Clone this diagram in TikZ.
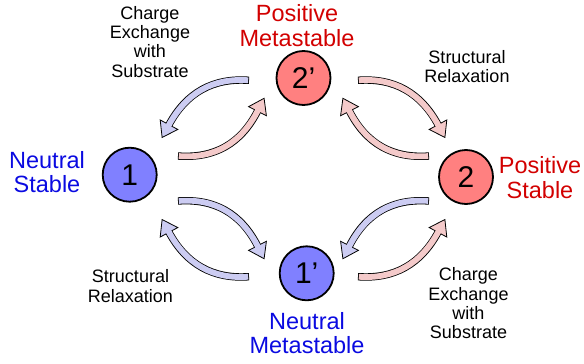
\documentclass[tikz,border=0pt]{standalone}
\usepackage{fontspec}
\setmainfont{Liberation Sans}
\usetikzlibrary{calc}
\definecolor{arrowblue}{RGB}{204,204,242}
\definecolor{arrowpink}{RGB}{244,202,202}
\definecolor{stateblue}{RGB}{128,128,255}
\definecolor{statered}{RGB}{255,128,128}
\definecolor{textblue}{RGB}{10,10,225}
\definecolor{textred}{RGB}{210,0,0}
\newcommand{\cyclearrow}[4]{%
  \draw[line width=7.4pt, black] (#2) .. controls ($(#2)!2/3!(#3)$) and ($(#4)!2/3!(#3)$) .. (#4);
  \filldraw[fill=#1, draw=black, line width=0.8pt, line join=miter]
    ($(#4)!10pt!90:(#3)$) -- ($(#4)!-14.5pt!(#3)$) -- ($(#4)!10pt!-90:(#3)$) -- cycle;
  \draw[line width=5.8pt, #1, shorten <=0.8pt, shorten >=-1.2pt] (#2) .. controls ($(#2)!2/3!(#3)$) and ($(#4)!2/3!(#3)$) .. (#4);
}
\tikzset{
  state/.style={circle, draw=black, line width=1.8pt, minimum size=54pt, inner sep=0pt,
    font=\fontsize{30}{30}\selectfont},
  lab/.style={align=center, inner sep=0pt, anchor=north, font=\fontsize{18}{19.3}\selectfont},
  statelab/.style={align=center, inner sep=0pt, anchor=north, font=\fontsize{23.5}{24.5}\selectfont},
}
\begin{document}
\begin{tikzpicture}[x=1pt,y=-1pt]
\useasboundingbox (0,0) rectangle (584,364);
% pair 1 (1 <-> 2')
\coordinate (a1t) at (249,80.3);  \coordinate (a1c) at (195,76.5);  \coordinate (a1b) at (169,124.7);
\coordinate (a2t) at (178,156);   \coordinate (a2c) at (232.6,160); \coordinate (a2b) at (257.5,111.2);
% pair 2 (2' <-> 2)
\coordinate (b1t) at (358,80.3);  \coordinate (b1c) at (412,76.5);  \coordinate (b1b) at (438,124.7);
\coordinate (b2t) at (429,156);   \coordinate (b2c) at (374.4,160); \coordinate (b2b) at (349.5,111.2);
% pair 3 (1 <-> 1')
\coordinate (c1t) at (249,276.7); \coordinate (c1c) at (195,280.5); \coordinate (c1b) at (169,232.3);
\coordinate (c2t) at (178,201);   \coordinate (c2c) at (232.6,197); \coordinate (c2b) at (257.5,245.8);
% pair 4 (1' <-> 2)
\coordinate (d1t) at (358,276.7); \coordinate (d1c) at (412,280.5); \coordinate (d1b) at (438,232.3);
\coordinate (d2t) at (429,201);   \coordinate (d2c) at (374.4,197); \coordinate (d2b) at (349.5,245.8);

\cyclearrow{arrowblue}{a1t}{a1c}{a1b}
\cyclearrow{arrowpink}{a2t}{a2c}{a2b}
\cyclearrow{arrowpink}{b1t}{b1c}{b1b}
\cyclearrow{arrowpink}{b2t}{b2c}{b2b}
\cyclearrow{arrowblue}{c1t}{c1c}{c1b}
\cyclearrow{arrowblue}{c2t}{c2c}{c2b}
\cyclearrow{arrowpink}{d1t}{d1c}{d1b}
\cyclearrow{arrowblue}{d2t}{d2c}{d2b}

\node[state, fill=stateblue] (n1)  at (129.7,174.7) {1};
\node[state, fill=statered]  (n2p) at (303.5,78)    {2’};
\node[state, fill=statered]  (n2)  at (466,177)     {2};
\node[state, fill=stateblue] (n1p) at (306.7,273.3) {1’};

\node[statelab, text=textblue] (l1)  at (47,151)    {Neutral\\Stable};
\node[statelab, text=textred]  (l2p) at (297,4.5)   {Positive\\Metastable};
\node[statelab, text=textred]  (l2)  at (540,156.5) {Positive\\Stable};
\node[statelab, text=textblue] (l1p) at (307,312)   {Neutral\\Metastable};

\node[lab] (t1) at (150,6)       {Charge\\Exchange\\with\\Substrate};
\node[lab] (t2) at (467,50)      {Structural\\Relaxation};
\node[lab] (t3) at (130.5,269.5) {Structural\\Relaxation};
\node[lab] (t4) at (468.5,267.5) {Charge\\Exchange\\with\\Substrate};
\end{tikzpicture}
\end{document}
